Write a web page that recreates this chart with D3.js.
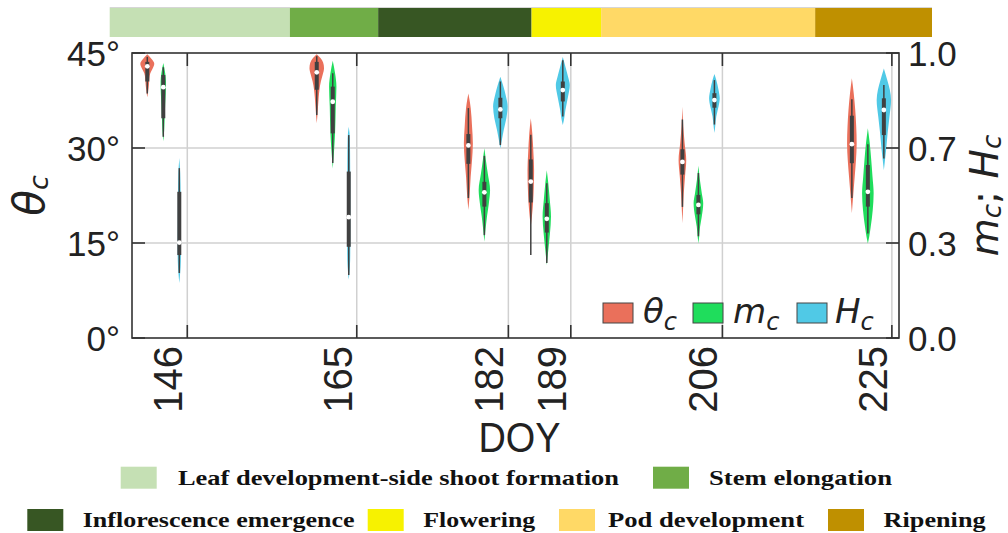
<!DOCTYPE html>
<html><head><meta charset="utf-8">
<script src="https://cdn.jsdelivr.net/npm/d3@7"></script>
<style>body{margin:0;background:#fff} svg{display:block}</style>
</head><body><svg id="c" width="1008" height="533"></svg>
<script>
// ---------------- DATA ----------------
const doys = [146, 165, 182, 189, 206, 225];
const doyLabels = ["146", "165", "182", "189", "206", "225"];
const thetaTicks = [0, 15, 30, 45];
const thetaTickLabels = ["0°", "15°", "30°", "45°"];
const rightTicks = [0, 1/3, 2/3, 1];
const rightTickLabels = ["0.0", "0.3", "0.7", "1.0"];

// box stats per DOY: [whisker low, q1, median, q3, whisker high]
const thetaStats = [
  [38.6, 40.5, 42.9, 43.6, 44.4],
  [35.2, 39.2, 41.95, 43.6, 44.5],
  [22.1, 27.5, 30.4, 32.2, 36.3],
  [13.1, 21.4, 24.7, 28.2, 32.1],
  [20.7, 25.8, 27.8, 29.8, 34.5],
  [22.1, 27.6, 30.6, 35.1, 37.7]
];
const mStats = [
  [0.706, 0.771, 0.880, 0.923, 0.950],
  [0.614, 0.718, 0.829, 0.882, 0.929],
  [0.361, 0.461, 0.511, 0.548, 0.639],
  [0.263, 0.370, 0.418, 0.473, 0.543],
  [0.357, 0.434, 0.467, 0.502, 0.579],
  [0.367, 0.461, 0.513, 0.607, 0.680]
];
const hStats = [
  [0.228, 0.291, 0.335, 0.513, 0.596],
  [0.221, 0.320, 0.424, 0.584, 0.712],
  [0.677, 0.771, 0.802, 0.843, 0.900],
  [0.777, 0.830, 0.870, 0.900, 0.975],
  [0.749, 0.808, 0.835, 0.859, 0.905],
  [0.630, 0.712, 0.800, 0.841, 0.888]
];
// density profiles per DOY: [value, relative density]
const thetaDens = [
  [[44.8,0],[44.0,0.6],[43.3,0.93],[42.5,0.7],[41.8,0.4],[41.0,0.28],[40.0,0.22],[39.0,0.12],[38.0,0]],
  [[44.8,0],[44.2,0.5],[43.5,0.85],[42.6,0.97],[41.6,0.8],[40.5,0.55],[39.2,0.36],[38.0,0.26],[36.5,0.17],[35.0,0.08],[33.9,0]],
  [[38.6,0],[37.6,0.15],[36.3,0.31],[33.4,0.49],[30.7,0.6],[28.1,0.49],[25.5,0.31],[22.8,0.18],[20.2,0]],
  [[34.7,0],[32.3,0.2],[29.2,0.35],[26.5,0.44],[23.9,0.4],[21.3,0.3],[19.2,0.15],[17.6,0]],
  [[36.5,0],[33.4,0.12],[30.7,0.3],[28.1,0.51],[25.5,0.35],[22.8,0.18],[20.2,0.08],[18.1,0]],
  [[41.0,0],[38.6,0.25],[36.0,0.45],[33.4,0.58],[30.7,0.64],[28.1,0.55],[25.5,0.38],[22.8,0.2],[19.7,0]]
];
const mDens = [
  [[0.965,0],[0.93,0.25],[0.90,0.36],[0.86,0.33],[0.82,0.25],[0.77,0.18],[0.73,0.12],[0.69,0]],
  [[0.973,0],[0.929,0.31],[0.882,0.49],[0.812,0.4],[0.718,0.31],[0.660,0.18],[0.595,0]],
  [[0.666,0],[0.625,0.2],[0.578,0.45],[0.519,0.76],[0.473,0.6],[0.426,0.35],[0.379,0.15],[0.338,0]],
  [[0.589,0],[0.543,0.2],[0.484,0.4],[0.426,0.56],[0.367,0.42],[0.309,0.2],[0.256,0]],
  [[0.604,0],[0.554,0.2],[0.508,0.45],[0.473,0.64],[0.426,0.45],[0.390,0.22],[0.355,0.1],[0.332,0]],
  [[0.736,0],[0.683,0.25],[0.625,0.45],[0.566,0.62],[0.508,0.77],[0.449,0.65],[0.390,0.38],[0.355,0.18],[0.332,0]]
];
const hDens = [
  [[0.632,0],[0.58,0.12],[0.5,0.18],[0.4,0.2],[0.33,0.22],[0.27,0.2],[0.23,0.12],[0.193,0]],
  [[0.741,0],[0.70,0.15],[0.6,0.19],[0.5,0.2],[0.4,0.2],[0.3,0.2],[0.25,0.15],[0.204,0]],
  [[0.917,0],[0.888,0.35],[0.847,0.75],[0.812,0.97],[0.771,0.8],[0.730,0.45],[0.695,0.2],[0.666,0]],
  [[0.986,0],[0.952,0.35],[0.917,0.7],[0.888,0.93],[0.847,0.7],[0.800,0.35],[0.765,0.15],[0.747,0]],
  [[0.926,0],[0.905,0.25],[0.870,0.55],[0.841,0.71],[0.812,0.55],[0.777,0.25],[0.741,0.1],[0.719,0]],
  [[0.946,0],[0.905,0.45],[0.870,0.8],[0.835,0.96],[0.777,0.75],[0.718,0.5],[0.660,0.3],[0.625,0.15],[0.589,0]]
];

// growth stages (DOY start / end)
const stageNames = ["Leaf development-side shoot formation", "Stem elongation", "Inflorescence emergence", "Flowering", "Pod development", "Ripening"];
const stageStart = [137.3, 157.5, 167.4, 184.6, 192.4, 216.4];
const stageEnd   = [157.5, 167.4, 184.6, 192.4, 216.4, 229.5];

// ---------------- STYLE / LAYOUT ----------------
const stageColors = ["#c5e0b4", "#70ad47", "#375623", "#f7f200", "#ffd966", "#bf9000"];
const seriesColors = ["#ea705b", "#1fdd5c", "#50c9e6"];
const M = {left: 132, right: 899, top: 53, bottom: 338};
const axisCol = "#333333", gridCol = "#d0d0d0";
const sansFont = "'Liberation Sans', Arial, sans-serif";
const mathFont = "'DejaVu Sans', sans-serif";
const serifFont = "'Liberation Serif', 'Times New Roman', serif";

const svg = d3.select("#c");
const x = d3.scaleLinear().domain([139.8, 225.8]).range([M.left, M.right]);
const yT = d3.scaleLinear().domain([0, 45]).range([M.bottom, M.top]);
const yR = d3.scaleLinear().domain([0, 1]).range([M.bottom, M.top]);
const wS = d3.scaleLinear().domain([0, 1]).range([0, 7.5]);

const series = [
  {stats: thetaStats, dens: thetaDens, y: yT, color: seriesColors[0], off: -40},
  {stats: mStats, dens: mDens, y: yR, color: seriesColors[1], off: -24},
  {stats: hStats, dens: hDens, y: yR, color: seriesColors[2], off: -8}
];

// ---------- stage bar ----------
const bar = svg.append("g");
bar.selectAll("rect").data(stageNames).join("rect")
  .attr("x", (d, i) => x(stageStart[i])).attr("y", 8)
  .attr("width", (d, i) => x(stageEnd[i]) - x(stageStart[i])).attr("height", 29)
  .attr("fill", (d, i) => stageColors[i]);
bar.append("line").attr("x1", x(stageStart[0])).attr("x2", x(stageEnd[5]))
  .attr("y1", 7.5).attr("y2", 7.5).attr("stroke", "#d6d6d6").attr("stroke-width", 1);

// ---------- grid ----------
const grid = svg.append("g");
grid.selectAll(".gx").data(doys).join("line")
  .attr("x1", d => x(d)).attr("x2", d => x(d)).attr("y1", M.top).attr("y2", M.bottom)
  .attr("stroke", gridCol).attr("stroke-width", 1.5);
grid.selectAll(".gy").data(thetaTicks.slice(1, 3)).join("line")
  .attr("x1", M.left).attr("x2", M.right).attr("y1", d => yT(d)).attr("y2", d => yT(d))
  .attr("stroke", gridCol).attr("stroke-width", 1.5);

// ---------- violins ----------
const vg = svg.append("g");
series.forEach(s => {
  doys.forEach((d, i) => {
    const cx = x(d) + s.off;
    const area = d3.area()
      .y(p => s.y(p[0]))
      .x0(p => cx - wS(p[1]))
      .x1(p => cx + wS(p[1]))
      .curve(d3.curveMonotoneY);
    vg.append("path").attr("d", area(s.dens[i])).attr("fill", s.color);
    const st = s.stats[i];
    vg.append("line").attr("x1", cx).attr("x2", cx)
      .attr("y1", s.y(st[0])).attr("y2", s.y(st[4]))
      .attr("stroke", "#404040").attr("stroke-width", 1.5);
    vg.append("line").attr("x1", cx).attr("x2", cx)
      .attr("y1", s.y(st[1])).attr("y2", s.y(st[3]))
      .attr("stroke", "#404040").attr("stroke-width", 4);
    vg.append("circle").attr("cx", cx).attr("cy", s.y(st[2])).attr("r", 2.4)
      .attr("fill", "#ffffff");
  });
});

// ---------- axes (spines, inward ticks) ----------
const ax = svg.append("g");
ax.append("rect").attr("x", M.left).attr("y", M.top)
  .attr("width", M.right - M.left).attr("height", M.bottom - M.top)
  .attr("fill", "none").attr("stroke", axisCol).attr("stroke-width", 1.6);
const tl = 13;
doys.forEach(d => {
  ax.append("line").attr("x1", x(d)).attr("x2", x(d)).attr("y1", M.bottom).attr("y2", M.bottom - tl)
    .attr("stroke", axisCol).attr("stroke-width", 1.6);
  ax.append("line").attr("x1", x(d)).attr("x2", x(d)).attr("y1", M.top).attr("y2", M.top + tl)
    .attr("stroke", axisCol).attr("stroke-width", 1.6);
});
thetaTicks.forEach(t => {
  ax.append("line").attr("x1", M.left).attr("x2", M.left + tl).attr("y1", yT(t)).attr("y2", yT(t))
    .attr("stroke", axisCol).attr("stroke-width", 1.6);
});
rightTicks.forEach(t => {
  ax.append("line").attr("x1", M.right - tl).attr("x2", M.right).attr("y1", yR(t)).attr("y2", yR(t))
    .attr("stroke", axisCol).attr("stroke-width", 1.6);
});

// tick labels
svg.append("g").selectAll("text").data(thetaTicks).join("text")
  .attr("x", 120).attr("y", d => yT(d)).attr("dy", "0.36em")
  .attr("text-anchor", "end").attr("font-family", sansFont).attr("font-size", 35).attr("fill", "#222")
  .text((d, i) => thetaTickLabels[i]);
svg.append("g").selectAll("text").data(rightTicks).join("text")
  .attr("x", 908).attr("y", d => yR(d)).attr("dy", "0.36em")
  .attr("text-anchor", "start").attr("font-family", sansFont).attr("font-size", 35).attr("fill", "#222")
  .text((d, i) => rightTickLabels[i]);
svg.append("g").selectAll("text").data(doys).join("text")
  .attr("transform", d => `translate(${x(d) - 5},346) rotate(-90)`)
  .attr("text-anchor", "end").attr("font-family", sansFont).attr("font-size", 40).attr("fill", "#222")
  .text((d, i) => doyLabels[i]);

// axis titles
svg.append("text").attr("x", (M.left + M.right) / 2 + 4).attr("y", 452)
  .attr("text-anchor", "middle").attr("font-family", sansFont).attr("font-size", 42).attr("fill", "#222")
  .attr("textLength", 82).attr("lengthAdjust", "spacingAndGlyphs")
  .text("DOY");

const yl = svg.append("text").attr("transform", `translate(44,${(M.top + M.bottom) / 2}) rotate(-90)`)
  .attr("text-anchor", "middle").attr("font-family", mathFont).attr("font-style", "italic").attr("fill", "#222");
yl.append("tspan").attr("font-size", 42).text("θ");
yl.append("tspan").attr("font-size", 27).attr("dy", 4).text("c");

const yr = svg.append("text").attr("transform", `translate(998,${(M.top + M.bottom) / 2}) rotate(-90)`)
  .attr("text-anchor", "middle").attr("font-family", mathFont).attr("font-style", "italic").attr("fill", "#222");
yr.append("tspan").attr("font-size", 39).text("m");
yr.append("tspan").attr("font-size", 26).attr("dy", 3).text("c");
yr.append("tspan").attr("font-size", 39).attr("dy", -3).attr("font-style", "normal").text("; ");
yr.append("tspan").attr("font-size", 39).text("H");
yr.append("tspan").attr("font-size", 26).attr("dy", 3).text("c");

// ---------- inner legend ----------
const legSym = ["θ", "m", "H"];
const legPatchX = [603, 693, 797];
const legTextX = [643, 733, 835];
const lg = svg.append("g");
legSym.forEach((s, i) => {
  lg.append("rect").attr("x", legPatchX[i]).attr("y", 303).attr("width", 30).attr("height", 20)
    .attr("fill", seriesColors[i]).attr("stroke", "#444").attr("stroke-width", 1);
  const t = lg.append("text").attr("x", legTextX[i]).attr("y", 323)
    .attr("font-family", mathFont).attr("font-style", "italic").attr("fill", "#222");
  t.append("tspan").attr("font-size", 34).text(s);
  t.append("tspan").attr("font-size", 24).attr("dy", 7).text("c");
});

// ---------- stage legend ----------
const stRow = [0, 0, 1, 1, 1, 1];
const stPatchX = [120.7, 653, 27.3, 367.7, 559, 828];
const stTextX = [178, 709, 82.7, 423.3, 608, 883.6];
const stTextW = [441, 183, 272, 112, 196, 102];
const rowPatchY = [466.7, 509];
const rowBase = [484.5, 526.5];
const sl = svg.append("g");
stageNames.forEach((n, i) => {
  sl.append("rect").attr("x", stPatchX[i]).attr("y", rowPatchY[stRow[i]]).attr("width", 36).attr("height", 22)
    .attr("fill", stageColors[i]);
  sl.append("text").attr("x", stTextX[i]).attr("y", rowBase[stRow[i]])
    .attr("font-family", serifFont).attr("font-weight", "bold").attr("font-size", 21)
    .attr("textLength", stTextW[i]).attr("lengthAdjust", "spacingAndGlyphs").attr("fill", "#111")
    .text(n);
});
</script></body></html>
